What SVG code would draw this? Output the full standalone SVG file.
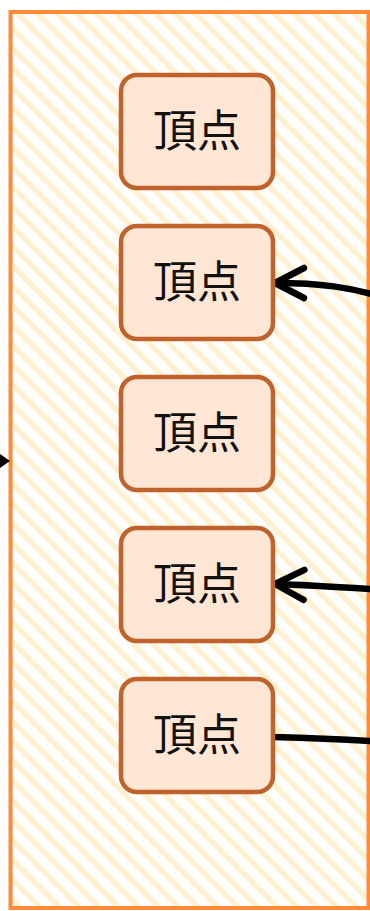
<svg xmlns="http://www.w3.org/2000/svg" width="370" height="911" viewBox="0 0 370 911">
<defs>
<pattern id="stripes" patternUnits="userSpaceOnUse" width="14" height="14" patternTransform="rotate(-45)">
<rect width="14" height="14" fill="#ffffff"/>
<rect width="5.5" height="14" fill="#fff1cf"/>
</pattern>
<marker id="chev" markerUnits="userSpaceOnUse" markerWidth="42" markerHeight="42" refX="33" refY="18" orient="auto" viewBox="0 0 42 36">
<path d="M4,3 L33,18 L4,33" fill="none" stroke="#000" stroke-width="6.5" stroke-linecap="round" stroke-linejoin="round"/>
</marker>
</defs>
<style>
.node rect{fill:#ffe6d5;stroke:#c0622b;stroke-width:4.5}
.node text{font-family:"Liberation Serif","Noto Sans CJK JP",serif;font-size:44px;fill:#111;text-anchor:middle;dominant-baseline:central}
.edge{fill:none;stroke:#000;stroke-width:6.5;stroke-linecap:round}
</style>
<g id="container">
<rect x="10.5" y="12" width="358" height="896" fill="url(#stripes)" stroke="#ff8a38" stroke-width="4"/>
</g>
<g id="connectors">
<path class="edge" d="M385,298 C350,287 320,283 275,283" marker-end="url(#chev)"/>
<path class="edge" d="M385,590 C340,587 310,585 275,584" marker-end="url(#chev)"/>
<path class="edge" d="M273,737 C310,738 340,739 385,742" style="stroke-linecap:butt"/>
<path d="M0,454 L10,461 L0,468 Z" fill="#000"/>
</g>
<g id="n1" class="node"><rect x="121" y="75" width="152" height="113" rx="16"/><text x="197" y="132">頂点</text></g>
<g id="n2" class="node"><rect x="121" y="226" width="152" height="113" rx="16"/><text x="197" y="283">頂点</text></g>
<g id="n3" class="node"><rect x="121" y="377" width="152" height="113" rx="16"/><text x="197" y="434">頂点</text></g>
<g id="n4" class="node"><rect x="121" y="528" width="152" height="113" rx="16"/><text x="197" y="585">頂点</text></g>
<g id="n5" class="node"><rect x="121" y="679" width="152" height="113" rx="16"/><text x="197" y="736">頂点</text></g>
</svg>
